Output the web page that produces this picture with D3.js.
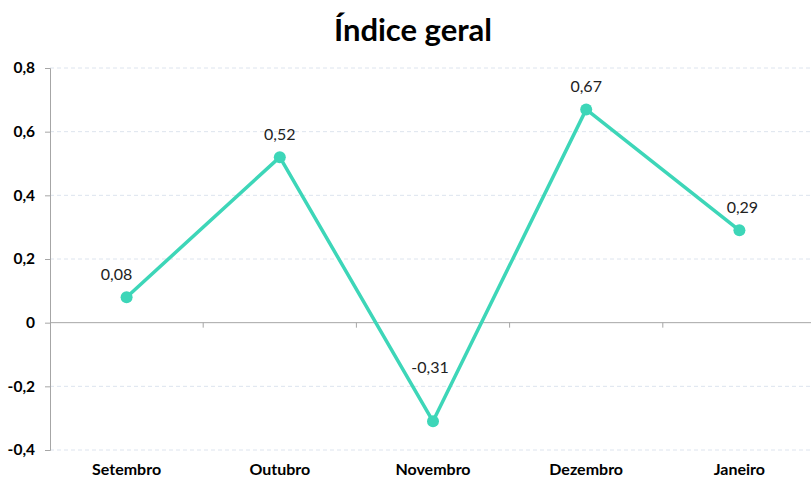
<!DOCTYPE html>
<html>
<head>
<meta charset="utf-8">
<script src="https://cdn.jsdelivr.net/npm/d3@7"></script>
<style>
  body { margin: 0; background: #fff; }
  svg text { font-family: Lato, "Open Sans", sans-serif; }
</style>
</head>
<body>
<svg id="chart" width="811" height="479"></svg>
<script>
var months = ["Setembro", "Outubro", "Novembro", "Dezembro", "Janeiro"];
var values = [0.08, 0.52, -0.31, 0.67, 0.29];
var yTicks = [-0.4, -0.2, 0, 0.2, 0.4, 0.6, 0.8];
var title = "Índice geral";

var svg = d3.select("#chart");
var plotLeft = 50, plotRight = 816, plotTop = 68, plotBottom = 450;

var x = d3.scaleBand().domain(months).range([plotLeft, plotRight]);
var y = d3.scaleLinear().domain([-0.4, 0.8]).range([plotBottom, plotTop]);
var fmt = function(v) { return String(+v.toFixed(2)).replace(".", ","); };

// grid lines
svg.append("g").selectAll("line")
  .data(yTicks.filter(function(d) { return d != 0; }))
  .enter().append("line")
  .attr("x1", plotLeft).attr("x2", 811)
  .attr("y1", function(d) { return y(d); })
  .attr("y2", function(d) { return y(d); })
  .attr("stroke", "#dde4ee")
  .attr("stroke-dasharray", "4,3");

// y axis
var yAxis = svg.append("g")
  .attr("transform", "translate(" + plotLeft + ",0)")
  .call(d3.axisLeft(y).tickValues(yTicks).tickFormat(fmt).tickSize(5).tickPadding(10));
yAxis.select(".domain").attr("stroke", "#a6a6a6");
yAxis.selectAll(".tick line").attr("stroke", "#a6a6a6");
yAxis.selectAll("text")
  .style("font-size", "15.5px").style("font-weight", "bold").attr("fill", "#000");

// zero line with category ticks
svg.append("line")
  .attr("x1", plotLeft).attr("x2", 811)
  .attr("y1", y(0)).attr("y2", y(0))
  .attr("stroke", "#a6a6a6");
svg.append("g").selectAll("line")
  .data(months.slice(1))
  .enter().append("line")
  .attr("x1", function(d) { return x(d); })
  .attr("x2", function(d) { return x(d); })
  .attr("y1", y(0)).attr("y2", y(0) + 5)
  .attr("stroke", "#a6a6a6");

// category labels
svg.append("g").selectAll("text")
  .data(months)
  .enter().append("text")
  .attr("x", function(d) { return x(d) + x.bandwidth() / 2; })
  .attr("y", 475)
  .attr("text-anchor", "middle")
  .style("font-size", "16px").style("font-weight", "bold")
  .text(function(d) { return d; });

// line
var pts = months.map(function(m, i) { return { m: m, v: values[i] }; });
var line = d3.line()
  .x(function(d) { return x(d.m) + x.bandwidth() / 2; })
  .y(function(d) { return y(d.v); });

svg.append("path")
  .datum(pts)
  .attr("d", line)
  .attr("fill", "none")
  .attr("stroke", "#3dd6b8")
  .attr("stroke-width", 3.5)
  .attr("stroke-linejoin", "round");

svg.append("g").selectAll("circle")
  .data(pts)
  .enter().append("circle")
  .attr("cx", function(d) { return x(d.m) + x.bandwidth() / 2; })
  .attr("cy", function(d) { return y(d.v); })
  .attr("r", 6)
  .attr("fill", "#3dd6b8");

// value labels (the negative one sits higher, clear of the line)
svg.append("g").selectAll("text")
  .data(pts)
  .enter().append("text")
  .attr("x", function(d, i) { return x(d.m) + x.bandwidth() / 2 + (i == 0 ? -10 : 0) + (i == 4 ? 3 : 0) + (d.v < 0 ? -3 : 0); })
  .attr("y", function(d) { return y(d.v) - (d.v < 0 ? 48 : 17); })
  .attr("text-anchor", "middle")
  .style("font-size", "16px")
  .attr("fill", "#222")
  .text(function(d) { return fmt(d.v); });

// title
svg.append("text")
  .attr("x", 413).attr("y", 41)
  .attr("text-anchor", "middle")
  .style("font-size", "31px").style("font-weight", "bold")
  .text(title);
</script>
</body>
</html>
